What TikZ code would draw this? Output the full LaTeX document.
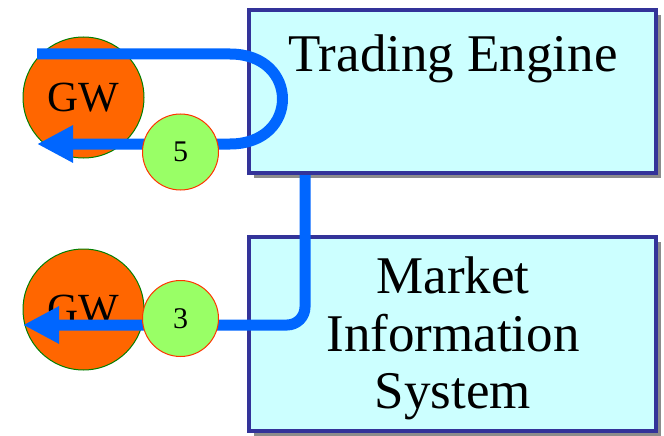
\documentclass[tikz,border=0pt]{standalone}
\usepackage{fontspec}
\setmainfont{Liberation Serif}
\usetikzlibrary{arrows.meta,shadows}

\definecolor{boxfill}{HTML}{CCFFFF}
\definecolor{boxline}{HTML}{333399}
\definecolor{gwfill}{HTML}{FF6600}
\definecolor{gwline}{HTML}{007F00}
\definecolor{stepfill}{HTML}{99FF66}
\definecolor{stepline}{HTML}{FF3300}
\definecolor{flowblue}{HTML}{0066FF}

\begin{document}
\begin{tikzpicture}[
	x=1pt, y=-1pt, % pixel like units, y going down
	system/.style={draw=boxline, fill=boxfill, line width=4pt, inner sep=0pt,
		drop shadow={shadow xshift=5pt, shadow yshift=-5pt, fill=gray!90, opacity=1}},
	systext/.style={font=\fontsize{53}{57.5}\selectfont, inner sep=0pt, align=center},
	gateway/.style={circle, draw=gwline, fill=gwfill, line width=1pt, minimum size=121pt,
		inner sep=0pt, font=\fontsize{43}{48}\selectfont},
	stepno/.style={circle, draw=stepline, fill=stepfill, line width=1pt, minimum size=76pt,
		inner sep=0pt, font=\fontsize{30}{34}\selectfont},
	flow/.style={draw=flowblue, line width=11pt, -{Triangle[length=36pt,width=35pt]}}
]
\useasboundingbox (0,0) rectangle (664,436);

% systems
\node[system, minimum width=407pt, minimum height=163pt](TE) at (452.5,91.5) {};
\node[system, minimum width=407pt, minimum height=194pt](MIS) at (452.5,334) {};
\node[systext, anchor=base](TEtext) at (453,72) {Trading Engine};
\node[systext, anchor=north](MIStext) at (453,257) {Market\\Information\\System};

% gateways
\node[gateway](GWa) at (83.5,97.5) {GW};
\node[gateway](GWb) at (83.5,309.5) {GW};

% message flows
\coordinate (loopin) at (37,54);
\coordinate (loopout) at (37,144);
\coordinate (tedrop) at (305,175);
\coordinate (misout) at (23,325);

\draw[flow] (loopin) -- (230,54) .. controls (300,54) and (300,144) .. (230,144) -- (loopout);
\draw[flow, rounded corners=18pt] (tedrop) -- (tedrop |- misout) -- (misout);

% step numbers
\node[stepno](S5) at (180.5,152) {5};
\node[stepno](S3) at (180.5,318.5) {3};
\end{tikzpicture}
\end{document}
